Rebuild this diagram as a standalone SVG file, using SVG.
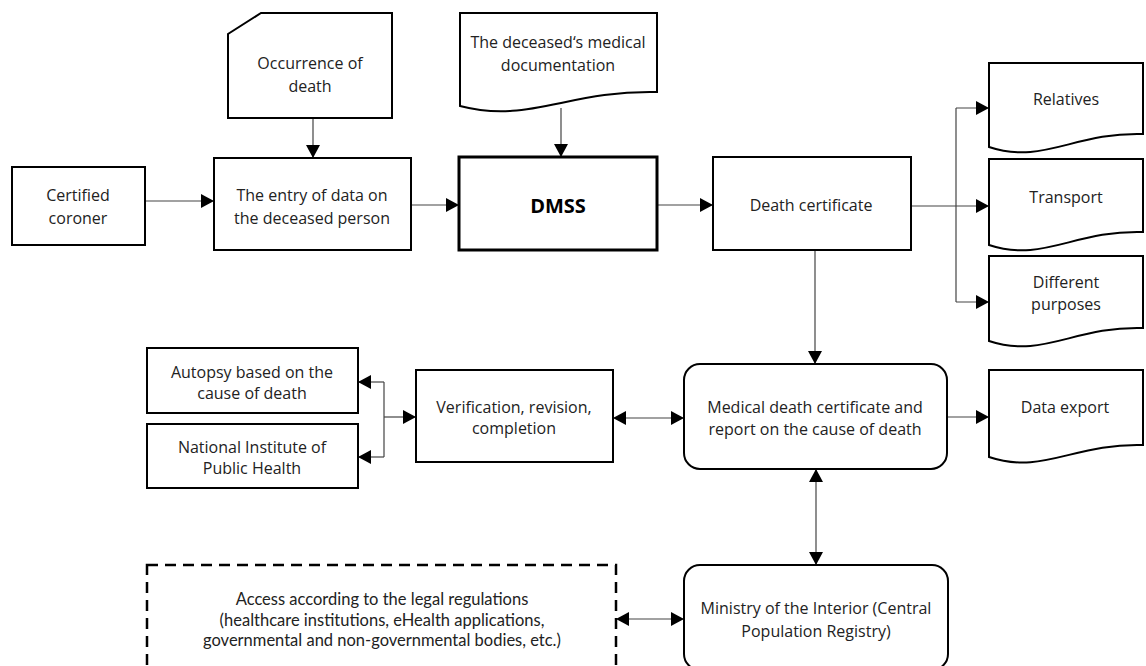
<svg xmlns="http://www.w3.org/2000/svg" width="1146" height="666" viewBox="0 0 1146 666">
<style>
.box{fill:#fff;stroke:#000;stroke-width:2}
.thick{stroke-width:3}
.dash{fill:#fff;stroke:#000;stroke-width:2.5;stroke-dasharray:11 7}
.t{font-family:"Open Sans","Noto Sans","DejaVu Sans",sans-serif;font-size:16px;fill:#222;text-anchor:middle;dominant-baseline:central}
.n{font-family:Lato,"Open Sans",sans-serif;font-size:16.5px}
.b{font-weight:bold;font-size:20px;fill:#000}
.c{fill:none;stroke:#444;stroke-width:1.2}
.e{marker-end:url(#ah)}
.s{marker-start:url(#ah)}
</style>
<defs>
<marker id="ah" markerUnits="userSpaceOnUse" markerWidth="13" markerHeight="14" refX="13" refY="7" orient="auto-start-reverse">
<path d="M0,0 L13,7 L0,14 Z" fill="#000"/>
</marker>
</defs>
<rect width="1146" height="666" fill="#fff"/>
<g id="connectors">
<path class="c e" d="M145,201 H214"/>
<path class="c e" d="M313,118 V158"/>
<path class="c e" d="M411,205 H459"/>
<path class="c e" d="M561,108 V157"/>
<path class="c e" d="M657,205 H713"/>
<path class="c e" d="M911,206 H989"/>
<path class="c" d="M956,108 V302"/>
<path class="c e" d="M956,108 H989"/>
<path class="c e" d="M956,302 H989"/>
<path class="c e" d="M815,250 V364"/>
<path class="c s e" d="M613,418 H684"/>
<path class="c e" d="M384,417 H416"/>
<path class="c" d="M384,382 V457"/>
<path class="c e" d="M384,382 H358"/>
<path class="c e" d="M384,457 H358"/>
<path class="c e" d="M947,417 H989"/>
<path class="c s e" d="M816,469 V565"/>
<path class="c s e" d="M616,619 H684"/>
</g>
<g id="coroner">
<rect class="box" x="12" y="167" width="133" height="78"/>
<text class="t" x="78" y="195">Certified</text>
<text class="t" x="78" y="218">coroner</text>
</g>
<g id="occurrence">
<path class="box" d="M261,13 H392 V118 H228 V34 Z"/>
<text class="t" x="310" y="63">Occurrence of</text>
<text class="t" x="310" y="86">death</text>
</g>
<g id="entry">
<rect class="box" x="214" y="158" width="197" height="92"/>
<text class="t" x="312" y="195">The entry of data on</text>
<text class="t" x="312" y="218">the deceased person</text>
</g>
<g id="meddoc">
<path class="box" d="M460,13 H657 V92 C568,90 529,124 460,106 Z"/>
<text class="t" x="558" y="42">The deceased‘s medical</text>
<text class="t" x="558" y="65">documentation</text>
</g>
<g id="dmss">
<rect class="box thick" x="459" y="157" width="198" height="93"/>
<text class="t b" x="558" y="205">DMSS</text>
</g>
<g id="death">
<rect class="box" x="713" y="157" width="198" height="93"/>
<text class="t" x="811" y="205">Death certificate</text>
</g>
<g id="relatives">
<path class="box" d="M989,63 H1143 V134 C1074,132 1043,165 989,147 Z"/>
<text class="t" x="1066" y="99">Relatives</text>
</g>
<g id="transport">
<path class="box" d="M989,159 H1143 V232 C1074,230 1043,263 989,245 Z"/>
<text class="t" x="1066" y="197">Transport</text>
</g>
<g id="different">
<path class="box" d="M989,256 H1143 V328 C1074,326 1043,359 989,341 Z"/>
<text class="t" x="1066" y="282">Different</text>
<text class="t" x="1066" y="304">purposes</text>
</g>
<g id="autopsy">
<rect class="box" x="147" y="348" width="211" height="65"/>
<text class="t" x="252" y="372">Autopsy based on the</text>
<text class="t" x="252" y="393">cause of death</text>
</g>
<g id="nioph">
<rect class="box" x="147" y="424" width="211" height="64"/>
<text class="t" x="252" y="447">National Institute of</text>
<text class="t" x="252" y="468">Public Health</text>
</g>
<g id="verification">
<rect class="box" x="416" y="370" width="197" height="92"/>
<text class="t" x="514" y="407">Verification, revision,</text>
<text class="t" x="514" y="428">completion</text>
</g>
<g id="medical">
<rect class="box" x="684" y="364" width="263" height="105" rx="16"/>
<text class="t" x="815" y="407">Medical death certificate and</text>
<text class="t" x="815" y="429">report on the cause of death</text>
</g>
<g id="export">
<path class="box" d="M989,370 H1143 V445 C1074,443 1043,475 989,457 Z"/>
<text class="t" x="1065" y="407">Data export</text>
</g>
<g id="access">
<rect class="dash" x="147" y="565" width="469" height="130"/>
<text class="t n" x="382" y="599">Access according to the legal regulations</text>
<text class="t n" x="382" y="619.5">(healthcare institutions, eHealth applications,</text>
<text class="t n" x="382" y="640">governmental and non-governmental bodies, etc.)</text>
</g>
<g id="ministry">
<rect class="box" x="684" y="565" width="264" height="105" rx="16"/>
<text class="t" x="816" y="608">Ministry of the Interior (Central</text>
<text class="t" x="816" y="631">Population Registry)</text>
</g>
</svg>
